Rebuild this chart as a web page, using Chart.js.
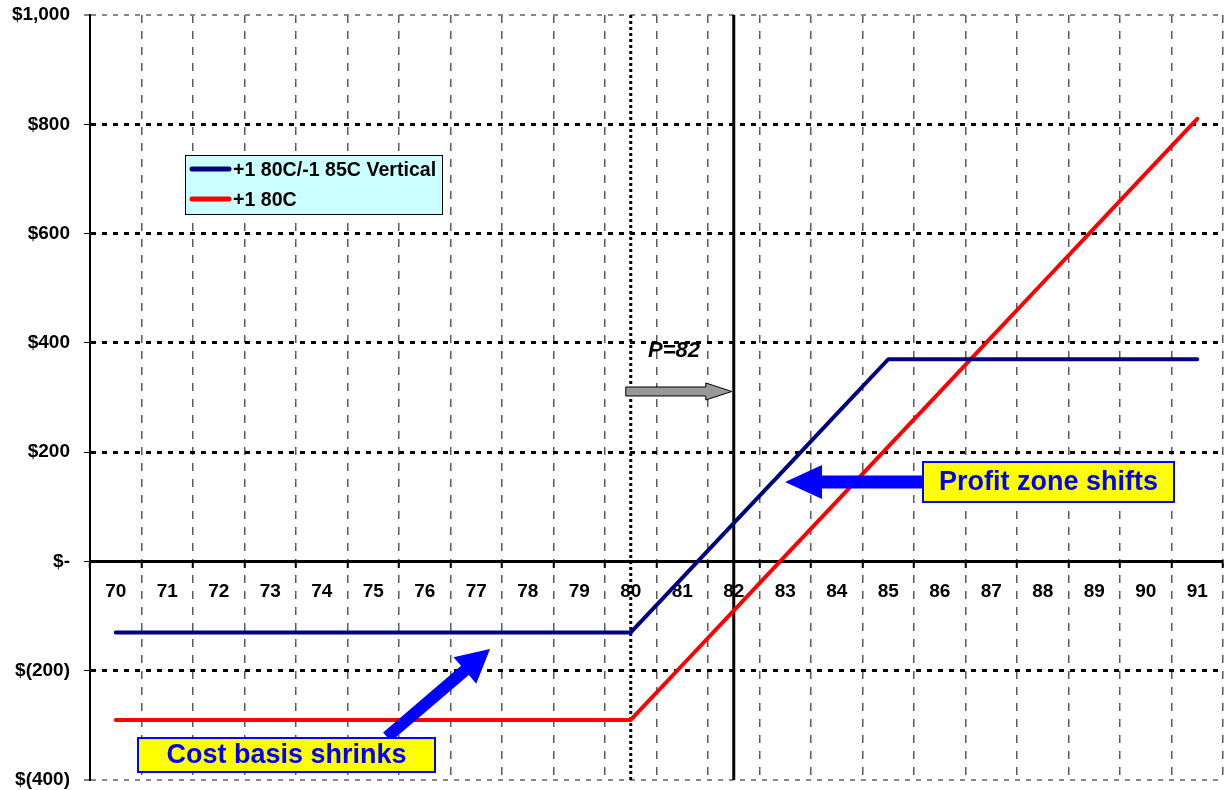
<!DOCTYPE html>
<html>
<head>
<meta charset="utf-8">
<script src="https://cdn.jsdelivr.net/npm/chart.js@4.4.1/dist/chart.umd.min.js"></script>
<style>
  html, body { margin: 0; padding: 0; background: #fff; }
  #wrap { width: 1224px; height: 790px; position: relative; }
</style>
</head>
<body>
<div id="wrap"><canvas id="c"></canvas></div>
<script>
// Underlying price at expiration
const strikes = ['70','71','72','73','74','75','76','77','78','79','80','81','82','83','84','85','86','87','88','89','90','91'];
// P&L of the 80/85 call vertical
const spreadPnL = [-130,-130,-130,-130,-130,-130,-130,-130,-130,-130,-130,-30,70,170,270,370,370,370,370,370,370,370];
// P&L of the long 80 call
const callPnL = [-290,-290,-290,-290,-290,-290,-290,-290,-290,-290,-290,-190,-90,10,110,210,310,410,510,610,710,810];
// Value axis ticks and their labels
const yTickValues = [-400,-200,0,200,400,600,800,1000];
const yTickLabels = ['$(400)','$(200)','$-','$200','$400','$600','$800','$1,000'];
const seriesNames = ['+1 80C/-1 85C Vertical','+1 80C'];
const seriesColors = ['#000080','#ff0000'];
const strikeLong = '80';
const currentPrice = '82';
const priceLabel = 'P=82';
const calloutProfit = 'Profit zone shifts';
const calloutCost = 'Cost basis shrinks';

const FONT = "'Liberation Sans', Arial, Helvetica, sans-serif";

function blockArrow(ctx, x1, y1, x2, y2, shaftW, headW, headL, fill, stroke) {
  const dx = x2 - x1, dy = y2 - y1;
  const len = Math.hypot(dx, dy);
  ctx.save();
  ctx.translate(x1, y1);
  ctx.rotate(Math.atan2(dy, dx));
  ctx.beginPath();
  ctx.moveTo(0, -shaftW / 2);
  ctx.lineTo(len - headL, -shaftW / 2);
  ctx.lineTo(len - headL, -headW / 2);
  ctx.lineTo(len, 0);
  ctx.lineTo(len - headL, headW / 2);
  ctx.lineTo(len - headL, shaftW / 2);
  ctx.lineTo(0, shaftW / 2);
  ctx.closePath();
  ctx.fillStyle = fill;
  ctx.fill();
  if (stroke) { ctx.lineWidth = 1; ctx.strokeStyle = stroke; ctx.stroke(); }
  ctx.restore();
}

function textBox(ctx, x, y, w, h, text, size) {
  ctx.save();
  ctx.fillStyle = '#ffff00';
  ctx.fillRect(x, y, w, h);
  ctx.lineWidth = 2;
  ctx.strokeStyle = '#0000ff';
  ctx.strokeRect(x, y, w, h);
  ctx.fillStyle = '#0000ff';
  ctx.font = 'bold ' + size + 'px ' + FONT;
  ctx.textAlign = 'center';
  ctx.textBaseline = 'middle';
  ctx.fillText(text, x + w / 2, y + h / 2 + 1);
  ctx.restore();
}

// Vertical marker lines at the long strike and at the current price
const priceMarkers = {
  id: 'priceMarkers',
  beforeDatasetsDraw(chart) {
    const { ctx, chartArea, scales: { x } } = chart;
    const xs = x.getPixelForValue(strikes.indexOf(strikeLong));
    const xp = x.getPixelForValue(strikes.indexOf(currentPrice));
    ctx.save();
    ctx.strokeStyle = '#000';
    ctx.lineWidth = 3;
    ctx.setLineDash([3, 3]);
    ctx.beginPath();
    ctx.moveTo(xs, chartArea.top);
    ctx.lineTo(xs, chartArea.bottom);
    ctx.stroke();
    ctx.setLineDash([]);
    ctx.beginPath();
    ctx.moveTo(xp, chartArea.top);
    ctx.lineTo(xp, chartArea.bottom);
    ctx.stroke();
    ctx.restore();
  }
};

// Legend box, price label and callouts
const overlays = {
  id: 'overlays',
  afterDatasetsDraw(chart) {
    const { ctx, scales: { x, y } } = chart;

    // legend
    ctx.save();
    ctx.fillStyle = '#ccffff';
    ctx.fillRect(185.5, 155.5, 257, 59);
    ctx.lineWidth = 1;
    ctx.strokeStyle = '#000';
    ctx.strokeRect(185.5, 155.5, 257, 59);
    chart.data.datasets.forEach((ds, i) => {
      const ly = 169 + i * 30;
      ctx.strokeStyle = ds.borderColor;
      ctx.lineWidth = 5;
      ctx.lineCap = 'round';
      ctx.beginPath();
      ctx.moveTo(192, ly);
      ctx.lineTo(229, ly);
      ctx.stroke();
      ctx.fillStyle = '#000';
      ctx.font = 'bold 19.6px ' + FONT;
      ctx.textAlign = 'left';
      ctx.textBaseline = 'middle';
      ctx.fillText(ds.label, 233, ly + 2);
    });
    ctx.restore();

    // price label and arrow from the strike to the price
    const xs = x.getPixelForValue(strikes.indexOf(strikeLong));
    const xp = x.getPixelForValue(strikes.indexOf(currentPrice));
    ctx.save();
    ctx.fillStyle = '#000';
    ctx.font = 'italic bold 22px ' + FONT;
    ctx.textAlign = 'center';
    ctx.textBaseline = 'middle';
    ctx.fillText(priceLabel, 674, y.getPixelForValue(385));
    ctx.restore();
    blockArrow(ctx, xs - 5, y.getPixelForValue(311), xp - 2, y.getPixelForValue(311), 9, 17, 26, '#999999', '#000');

    // profit zone callout
    blockArrow(ctx, 924, 482, 785, 482, 13, 34, 37, '#0000ff');
    textBox(ctx, 923, 462, 251, 40, calloutProfit, 27);

    // cost basis callout
    blockArrow(ctx, 387, 737, 490, 649, 12, 35, 33, '#0000ff');
    textBox(ctx, 138, 738, 297, 34, calloutCost, 27);
  }
};

new Chart(document.getElementById('c'), {
  type: 'line',
  data: {
    labels: strikes,
    datasets: [
      { label: seriesNames[0], data: spreadPnL, borderColor: seriesColors[0], backgroundColor: seriesColors[0],
        borderWidth: 4, pointRadius: 0, tension: 0, borderCapStyle: 'round', borderJoinStyle: 'round' },
      { label: seriesNames[1], data: callPnL, borderColor: seriesColors[1], backgroundColor: seriesColors[1],
        borderWidth: 4, pointRadius: 0, tension: 0, borderCapStyle: 'round', borderJoinStyle: 'round' }
    ]
  },
  options: {
    responsive: true,
    maintainAspectRatio: false,
    animation: false,
    devicePixelRatio: 1,
    layout: { padding: { top: 15, right: 1, bottom: 10, left: 0 } },
    plugins: { legend: { display: false }, tooltip: { enabled: false } },
    scales: {
      x: {
        type: 'category',
        position: { y: 0 },
        offset: true,
        afterFit(scale) { scale.paddingLeft = 0; scale.paddingRight = 0; scale.paddingTop = 0; scale.paddingBottom = 0; },
        grid: { offset: true, color: '#5a5a5a', lineWidth: 1.5, tickLength: 5, tickColor: '#000', tickWidth: 2 },
        border: { display: true, color: '#000', width: 3, dash: [8, 8] },
        ticks: { color: '#000', font: { family: FONT, size: 19, weight: 'bold' }, padding: 14, maxRotation: 0, autoSkip: false }
      },
      y: {
        type: 'linear',
        min: -400,
        max: 1000,
        afterBuildTicks(scale) { scale.ticks = yTickValues.map(v => ({ value: v })); },
        afterFit(scale) { scale.width = 90; scale.paddingTop = 0; scale.paddingBottom = 0; scale.paddingLeft = 0; scale.paddingRight = 0; },
        grid: {
          color(ctx) {
            const v = ctx.tick && ctx.tick.value;
            if (v === 0) return 'rgba(0,0,0,0)';
            if (v === 1000 || v === -400) return '#888';
            return '#000';
          },
          lineWidth(ctx) {
            const v = ctx.tick && ctx.tick.value;
            return (v === 1000 || v === -400) ? 2 : 3;
          },
          tickLength: 6, tickColor: '#000', tickWidth: 1
        },
        border: { display: true, color: '#000', width: 2, dash: [5, 6] },
        ticks: {
          color: '#000',
          font: { family: FONT, size: 19, weight: 'bold' },
          padding: 14,
          callback(value) { const i = yTickValues.indexOf(value); return i >= 0 ? yTickLabels[i] : ''; }
        }
      }
    }
  },
  plugins: [priceMarkers, overlays]
});
</script>
</body>
</html>
